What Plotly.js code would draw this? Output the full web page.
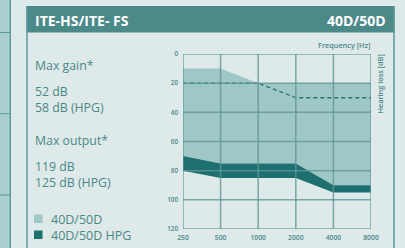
<!DOCTYPE html>
<html><head><meta charset="utf-8">
<script src="https://cdn.plot.ly/plotly-3.0.1.min.js"></script>
<style>html,body{margin:0;padding:0;background:#dee9e9;}</style>
</head><body><div id="chart" style="width:405px;height:248px;"></div>
<script>
// Data
const frequencies = [250, 500, 1000, 2000, 4000, 8000];
const freqLabels = ['250', '500', '1000', '2000', '4000', '8000'];
const gainTop = [10, 10, 20, 20, 20, 20];          // top of 40D/50D area
const standardBottom = [70, 75, 75, 75, 90, 90];   // bottom of 40D/50D area
const hpgBottom = [80, 85, 85, 85, 95, 95];        // bottom of HPG band
const dashedLine = [20, 20, 20, 30, 30, 30];
const hlTicks = [0, 20, 40, 60, 80, 100, 120];
const seriesNames = ['40D/50D', '40D/50D HPG'];

const W = 405, H = 248;
const M = {l: 183, r: 34, t: 54, b: 19};
const pw = W - M.l - M.r, ph = H - M.t - M.b;
const px = x => (x - M.l) / pw;
const py = y => (H - M.b - y) / ph;

const teal = '#4a8888';
const light = '#9fc7c5';
const dark = '#1e6f6f';
const gridC = 'rgba(95,150,150,0.8)';

const traces = [
  {x: frequencies, y: gainTop, mode: 'lines', line: {width: 0, color: light}, showlegend: false, hoverinfo: 'skip'},
  {x: frequencies, y: standardBottom, mode: 'lines', line: {width: 0, color: light}, fill: 'tonexty', fillcolor: light, name: seriesNames[0], showlegend: false},
  {x: frequencies, y: hpgBottom, mode: 'lines', line: {width: 0, color: dark}, fill: 'tonexty', fillcolor: dark, name: seriesNames[1], showlegend: false},
  {x: frequencies, y: dashedLine, mode: 'lines', line: {width: 1.3, color: '#2d7272', dash: '4px,3px'}, showlegend: false}
];

const shapes = [];
// grid lines above fills
frequencies.forEach(f => shapes.push({type: 'line', xref: 'x', yref: 'paper', x0: f, x1: f, y0: 0, y1: 1, layer: 'above', line: {color: gridC, width: 1.5}}));
hlTicks.forEach(v => shapes.push({type: 'line', xref: 'paper', yref: 'y', x0: 0, x1: 1, y0: v, y1: v, layer: 'above', line: {color: gridC, width: 1.5}}));
// header bar
shapes.push({type: 'rect', xref: 'paper', yref: 'paper', x0: px(26.5), x1: px(394.5), y0: py(32.5), y1: py(6), fillcolor: '#4c8989', line: {width: 0}, layer: 'below'});
// panel borders
shapes.push({type: 'line', xref: 'paper', yref: 'paper', x0: px(27), x1: px(27), y0: py(6), y1: py(250), line: {color: '#5c9797', width: 1.5}});
shapes.push({type: 'line', xref: 'paper', yref: 'paper', x0: px(394), x1: px(394), y0: py(6), y1: py(250), line: {color: '#5c9797', width: 1.5}});
// left strip
shapes.push({type: 'rect', xref: 'paper', yref: 'paper', x0: px(-2), x1: px(10), y0: py(250), y1: py(-2), fillcolor: '#a9cfcf', line: {width: 0}, layer: 'below'});
shapes.push({type: 'line', xref: 'paper', yref: 'paper', x0: px(10.3), x1: px(10.3), y0: py(250), y1: py(-2), line: {color: '#4f8b8b', width: 1.2}});
[32.5, 113.7, 195].forEach(yy => shapes.push({type: 'line', xref: 'paper', yref: 'paper', x0: px(-2), x1: px(10), y0: py(yy), y1: py(yy), line: {color: '#5c9797', width: 1}}));
// legend squares
shapes.push({type: 'rect', xref: 'paper', yref: 'paper', x0: px(34), x1: px(42.5), y0: py(223), y1: py(214.5), fillcolor: light, line: {width: 0}});
shapes.push({type: 'rect', xref: 'paper', yref: 'paper', x0: px(34), x1: px(42.5), y0: py(239), y1: py(230.5), fillcolor: dark, line: {width: 0}});

const ff = '"Open Sans", "Noto Sans", sans-serif';
const ann = (text, x, y, size, opts) => Object.assign({text: text, xref: 'paper', yref: 'paper', x: px(x), y: py(y), xanchor: 'left', yanchor: 'middle', align: 'left', showarrow: false, font: {family: ff, size: size, color: teal}}, opts || {});
const annotations = [
  ann('<b>ITE-HS/ITE- FS</b>', 33, 20.5, 14, {font: {family: ff, size: 14, color: '#ffffff'}}),
  ann('<b>40D/50D</b>', 388, 20.5, 14, {xanchor: 'right', font: {family: ff, size: 14, color: '#ffffff'}}),
  ann('Max gain*', 32.5, 65, 12.3),
  ann('52 dB<br>58 dB (HPG)', 32.5, 99.5, 12.3),
  ann('Max output*', 32.5, 140, 12.3),
  ann('119 dB<br>125 dB (HPG)', 32.5, 174, 12.3),
  ann(seriesNames[0] + '<br>' + seriesNames[1], 49, 227, 12.5),
  ann('Frequency [Hz]', 372, 45, 7.3, {xanchor: 'right', font: {family: ff, size: 7.3, color: teal, weight: 600}}),
  ann('Hearing loss [dB]', 379.5, 84, 7.3, {xanchor: 'center', textangle: -90, font: {family: ff, size: 7.3, color: teal, weight: 600}})
];

const layout = {
  width: W, height: H,
  margin: M,
  paper_bgcolor: '#dee9e9', plot_bgcolor: '#dee9e9',
  showlegend: false,
  xaxis: {type: 'log', range: [Math.log10(250), Math.log10(8000)], tickvals: frequencies, ticktext: freqLabels,
    showgrid: false, zeroline: false, showline: false, ticks: '', ticklabelstandoff: 3,
    tickfont: {family: ff, size: 6.8, color: teal, weight: 600}, fixedrange: true},
  yaxis: {range: [120, 0], tickvals: hlTicks, showgrid: false, zeroline: false, showline: false, ticks: '', ticklabelstandoff: 4,
    tickfont: {family: ff, size: 6.3, color: teal, weight: 600}, fixedrange: true},
  shapes: shapes,
  annotations: annotations
};

Plotly.newPlot('chart', traces, layout, {displayModeBar: false, staticPlot: true});
</script>
</body></html>
